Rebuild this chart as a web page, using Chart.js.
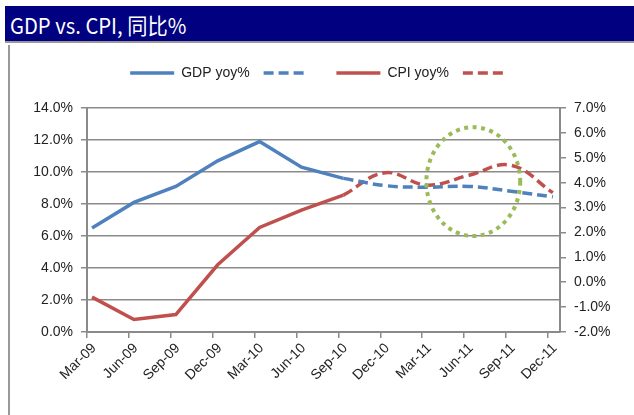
<!DOCTYPE html>
<html>
<head>
<meta charset="utf-8">
<script src="https://cdn.jsdelivr.net/npm/chart.js@4.4.1/dist/chart.umd.min.js"></script>
<style>
    body { margin: 0; background: #fff; width: 634px; height: 415px; overflow: hidden; position: relative; }
    #Header {
        position: absolute; left: 5px; top: 6px; width: 629px; height: 37px;
        background: #000080; border-bottom: 2px solid #999;
        color: #fff; font-family: 'Noto Sans CJK SC', sans-serif; font-size: 22px;
        line-height: 37px; padding-left: 5px; box-sizing: border-box;
    }
    #Header span { display: inline-block; transform: scaleX(0.92); transform-origin: left center; }
    #Frame { position: absolute; left: 8px; top: 45px; width: 0; height: 370px; border-left: 2px solid #999; }
    #ChartBox { position: absolute; left: 10px; top: 46px; width: 624px; height: 369px; }
</style>
</head>
<body>
<div id="Header"><span>GDP vs. CPI, 同比%</span></div>
<div id="Frame"></div>
<div id="ChartBox"><canvas id="GdpCpi"></canvas></div>

<script>
var categories = ['Mar-09', 'Jun-09', 'Sep-09', 'Dec-09', 'Mar-10', 'Jun-10', 'Sep-10', 'Dec-10', 'Mar-11', 'Jun-11', 'Sep-11', 'Dec-11'];

// GDP yoy% (left axis) - actual then forecast
var gdpActual = [6.5, 8.1, 9.1, 10.7, 11.9, 10.3, 9.6, null, null, null, null, null];
var gdpForecast = [null, null, null, null, null, null, 9.6, 9.15, 9.05, 9.1, 8.8, 8.45];

// CPI yoy% (right axis) - actual then forecast
var cpiActual = [-0.6, -1.5, -1.3, 0.7, 2.2, 2.9, 3.5, null, null, null, null, null];
var cpiForecast = [null, null, null, null, null, null, 3.5, 4.4, 3.9, 4.3, 4.7, 3.6];

var blueColor = '#4F81BD';
var redColor = '#C0504D';
var greenColor = '#9BBB59';
var axisColor = '#8a8a8a';
var fontFamily = "'Liberation Sans', Arial, sans-serif";

function toPoints(values) {
    return values.map(function (v, i) { return { x: i, y: v }; });
}

function pct(v) {
    return v.toFixed(1) + '%';
}

// dotted circle around the 2011 forecast (in data units)
var highlightPlugin = {
    id: 'highlight',
    afterDatasetsDraw: function (chart) {
        var x = chart.scales.x;
        var y = chart.scales.y;
        var cx = x.getPixelForValue(9.1);
        var cy = y.getPixelForValue(9.4);
        var rx = Math.abs(x.getPixelForValue(9.1 + 1.12) - cx);
        var ry = Math.abs(y.getPixelForValue(9.4 + 3.4) - cy);
        var ctx = chart.ctx;
        ctx.save();
        ctx.beginPath();
        ctx.ellipse(cx, cy, rx, ry, 0, 0, Math.PI * 2);
        ctx.strokeStyle = greenColor;
        ctx.lineWidth = 4;
        ctx.setLineDash([4, 4.5]);
        ctx.stroke();
        ctx.restore();
    }
};

// push the plot down below the legend
var legendGapPlugin = {
    id: 'legendGap',
    afterInit: function (chart) {
        var fit = chart.legend.fit;
        chart.legend.fit = function () {
            fit.call(this);
            this.height += 18;
        };
    }
};

var ctx = document.getElementById('GdpCpi');

new Chart(ctx, {
    type: 'line',
    data: {
        datasets: [{
            label: 'GDP yoy%',
            data: toPoints(gdpActual),
            borderColor: blueColor,
            borderWidth: 3.5,
            tension: 0,
            yAxisID: 'y'
        }, {
            label: '  ',
            data: toPoints(gdpForecast),
            borderColor: blueColor,
            borderWidth: 3.5,
            borderDash: [10, 5],
            tension: 0.4,
            yAxisID: 'y'
        }, {
            label: 'CPI yoy%',
            data: toPoints(cpiActual),
            borderColor: redColor,
            borderWidth: 3.5,
            tension: 0,
            yAxisID: 'y1'
        }, {
            label: '',
            data: toPoints(cpiForecast),
            borderColor: redColor,
            borderWidth: 3.5,
            borderDash: [10, 5],
            tension: 0.4,
            yAxisID: 'y1'
        }]
    },
    options: {
        responsive: true,
        maintainAspectRatio: false,
        animation: false,
        spanGaps: false,
        elements: {
            point: { radius: 0, hoverRadius: 0 }
        },
        layout: {
            padding: { top: 6, left: 0, right: 0, bottom: 0 }
        },
        plugins: {
            tooltip: { enabled: false },
            legend: {
                display: true,
                position: 'top',
                labels: {
                    usePointStyle: true,
                    pointStyle: 'line',
                    pointStyleWidth: 44,
                    boxHeight: 14,
                    padding: 14,
                    color: '#222',
                    font: { family: fontFamily, size: 14 },
                    generateLabels: function (chart) {
                        var items = Chart.defaults.plugins.legend.labels.generateLabels(chart);
                        items.forEach(function (item) {
                            item.lineDash = chart.data.datasets[item.datasetIndex].borderDash || [];
                        });
                        return items;
                    }
                }
            }
        },
        scales: {
            x: {
                type: 'linear',
                min: -0.12,
                max: 11.17,
                afterBuildTicks: function (scale) {
                    scale.ticks = categories.map(function (c, i) { return { value: i - 0.12 }; });
                },
                afterFit: function (scale) {
                    scale.height = 83;
                },
                grid: {
                    drawOnChartArea: false,
                    drawTicks: true,
                    tickLength: 6,
                    color: axisColor,
                    lineWidth: 1.5
                },
                border: { color: axisColor, width: 2 },
                ticks: {
                    autoSkip: false,
                    maxRotation: 45,
                    minRotation: 45,
                    padding: 2,
                    labelOffset: 7,
                    color: '#222',
                    font: { family: fontFamily, size: 14 },
                    callback: function (value) {
                        return categories[Math.round(value + 0.12)];
                    }
                }
            },
            y: {
                position: 'left',
                min: 0,
                max: 14,
                afterFit: function (scale) {
                    scale.width = 77;
                },
                ticks: {
                    stepSize: 2,
                    padding: 8,
                    color: '#222',
                    font: { family: fontFamily, size: 14 },
                    callback: pct
                },
                grid: {
                    color: axisColor,
                    lineWidth: 1.5,
                    tickLength: 6
                },
                border: { color: axisColor, width: 2 }
            },
            y1: {
                position: 'right',
                min: -2,
                max: 7,
                afterFit: function (scale) {
                    scale.width = 74;
                },
                ticks: {
                    stepSize: 1,
                    padding: 8,
                    color: '#222',
                    font: { family: fontFamily, size: 14 },
                    callback: pct
                },
                grid: {
                    drawOnChartArea: false,
                    color: axisColor,
                    lineWidth: 1.5,
                    tickLength: 6
                },
                border: { color: axisColor, width: 2 }
            }
        }
    },
    plugins: [legendGapPlugin, highlightPlugin]
});
</script>
</body>
</html>
